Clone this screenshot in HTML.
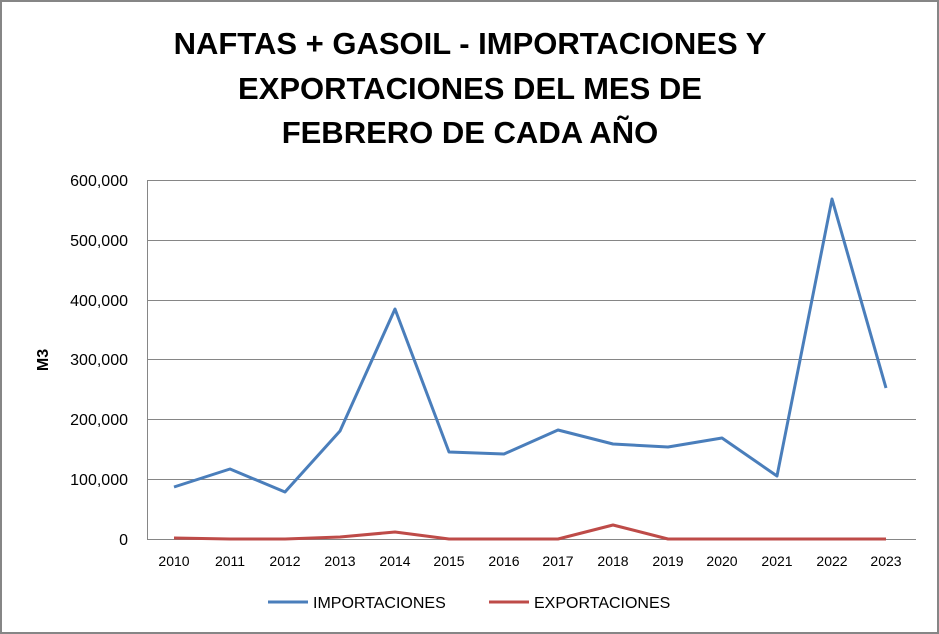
<!DOCTYPE html>
<html><head><meta charset="utf-8"><style>
html,body{margin:0;padding:0;background:#fff}
svg{display:block}
</style></head><body>
<svg width="939" height="634" xmlns="http://www.w3.org/2000/svg" font-family="Liberation Sans, sans-serif">
<rect x="1" y="1" width="937" height="632" fill="#fff" stroke="#868686" stroke-width="2"/>
<g font-weight="bold" font-size="31" text-anchor="middle" fill="#000" font-family="Liberation Sans Narrow, Liberation Sans, sans-serif">
<text x="470" y="54">NAFTAS + GASOIL - IMPORTACIONES Y</text>
<text x="470" y="99">EXPORTACIONES DEL MES DE</text>
<text x="470" y="143">FEBRERO DE CADA AÑO</text>
</g>
<g stroke="#868686" stroke-width="1">
<line x1="147" y1="180.5" x2="916" y2="180.5"/>
<line x1="147" y1="240.5" x2="916" y2="240.5"/>
<line x1="147" y1="300.5" x2="916" y2="300.5"/>
<line x1="147" y1="359.5" x2="916" y2="359.5"/>
<line x1="147" y1="419.5" x2="916" y2="419.5"/>
<line x1="147" y1="479.5" x2="916" y2="479.5"/>
<line x1="147" y1="539.5" x2="916" y2="539.5"/>
<line x1="147.5" y1="180" x2="147.5" y2="539"/>
</g>
<g font-size="16" text-anchor="end" fill="#000">
<text x="128" y="186">600,000</text>
<text x="128" y="246">500,000</text>
<text x="128" y="306">400,000</text>
<text x="128" y="365">300,000</text>
<text x="128" y="425">200,000</text>
<text x="128" y="485">100,000</text>
<text x="128" y="545">0</text>
</g>
<text x="48" y="360" font-size="16" font-weight="bold" transform="rotate(-90 48 360)" text-anchor="middle">M3</text>
<g font-size="14" text-anchor="middle">
<text x="174" y="566">2010</text><text x="230" y="566">2011</text><text x="285" y="566">2012</text><text x="340" y="566">2013</text><text x="395" y="566">2014</text><text x="449" y="566">2015</text><text x="504" y="566">2016</text><text x="558" y="566">2017</text><text x="613" y="566">2018</text><text x="668" y="566">2019</text><text x="722" y="566">2020</text><text x="777" y="566">2021</text><text x="832" y="566">2022</text><text x="886" y="566">2023</text>
</g>
<polyline fill="none" stroke="#4a7ebb" stroke-width="3" stroke-linejoin="round" points="174,487 230,469 285,492 340,431 395,309 449,452 504,454 558,430 613,444 668,447 722,438 777,476 832,199 886,388"/>
<polyline fill="none" stroke="#be4b48" stroke-width="3" stroke-linejoin="round" points="174,538 230,539 285,539 340,537 395,532 449,539 504,539 558,539 613,525 668,539 722,539 777,539 832,539 886,539"/>
<line x1="268" y1="602" x2="308" y2="602" stroke="#4a7ebb" stroke-width="3"/>
<text x="313" y="608" font-size="16">IMPORTACIONES</text>
<line x1="489" y1="602" x2="529" y2="602" stroke="#be4b48" stroke-width="3"/>
<text x="534" y="608" font-size="16">EXPORTACIONES</text>
</svg>
</body></html>
